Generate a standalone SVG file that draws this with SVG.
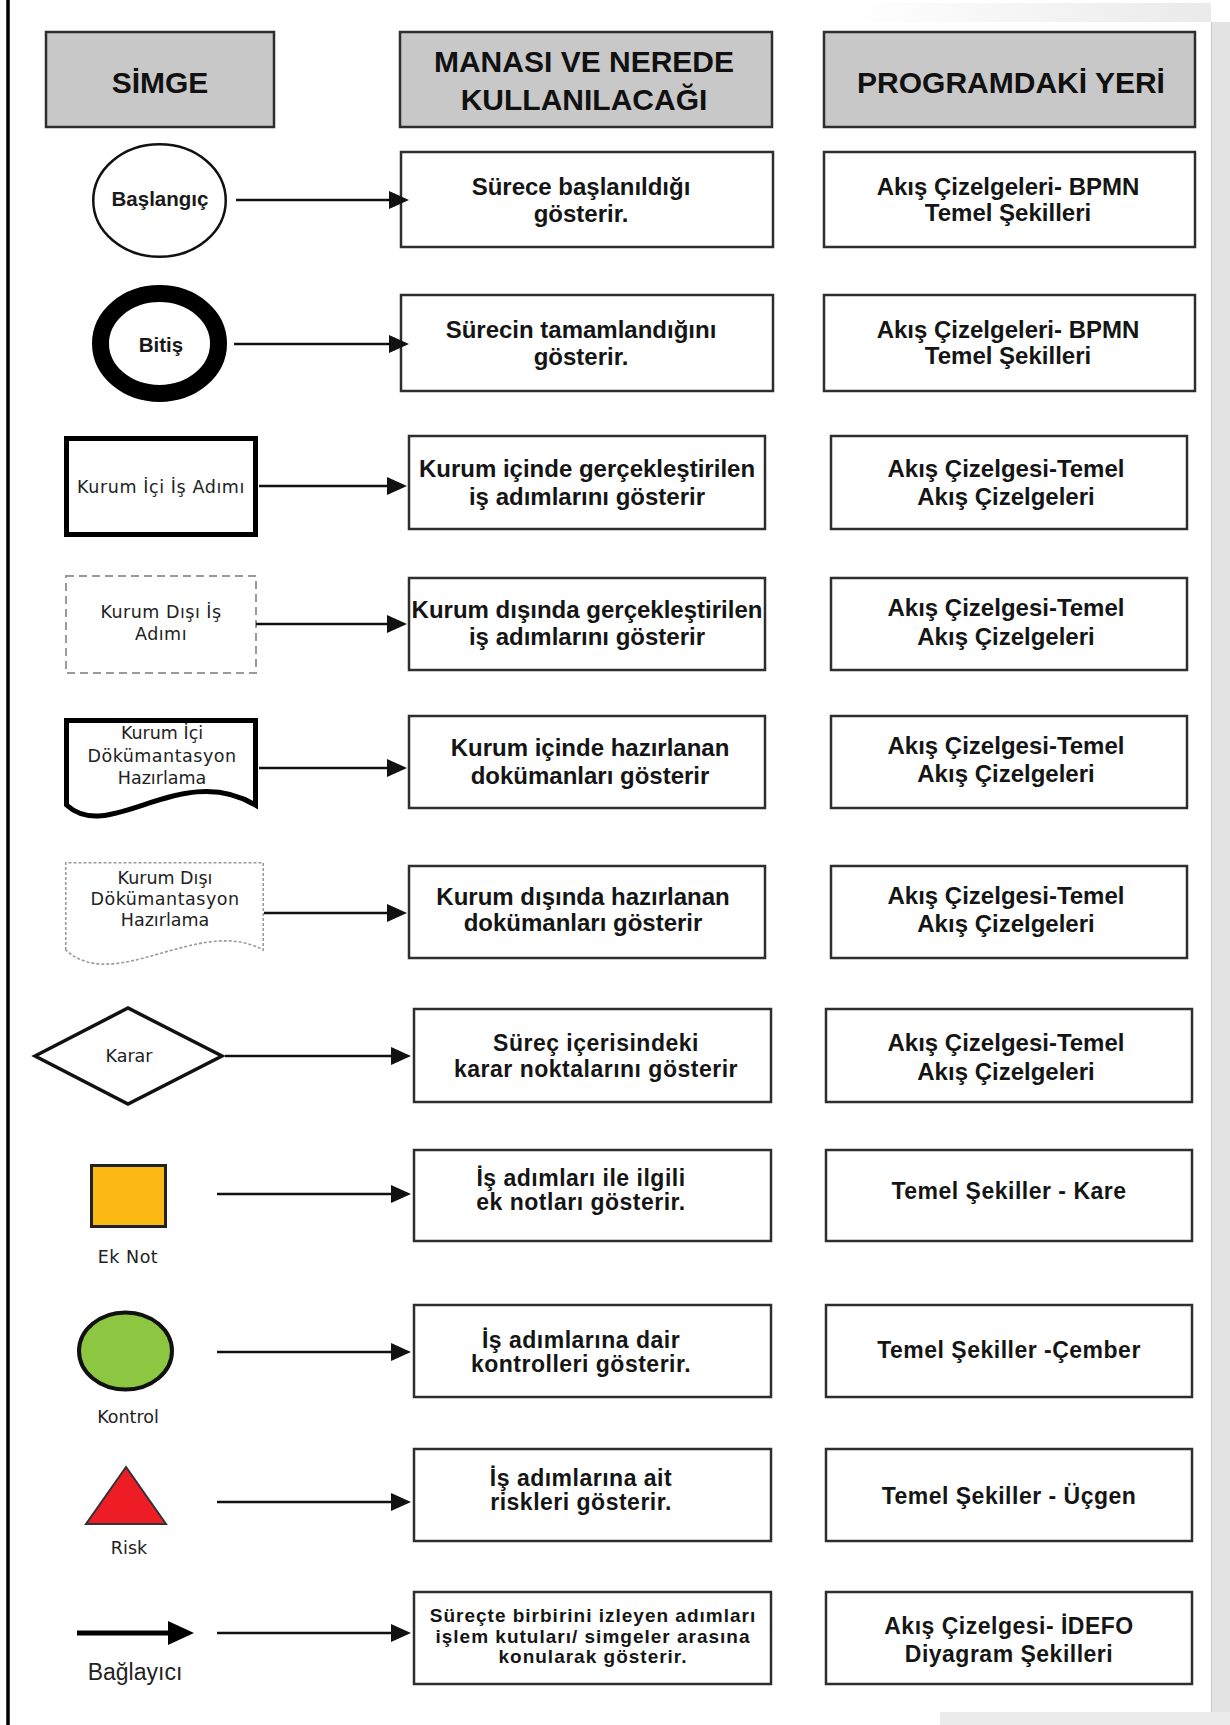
<svg xmlns="http://www.w3.org/2000/svg" width="1230" height="1725" viewBox="0 0 1230 1725">
<defs>
<style>
.hdr{fill:#c8c8c8;stroke:#2e2e2e;stroke-width:2.5}
.box{fill:#fff;stroke:#2e2e2e;stroke-width:2.5}
.ht{font-family:"Liberation Sans",Arial,sans-serif;font-weight:bold;font-size:30px;fill:#111;text-anchor:middle}
.ct{font-family:"Liberation Sans",Arial,sans-serif;font-weight:bold;font-size:24px;fill:#151515;text-anchor:middle}
.wt{font-family:"Liberation Sans",Arial,sans-serif;font-weight:bold;font-size:23px;letter-spacing:0.5px;fill:#151515;text-anchor:middle}
.st{font-family:"Liberation Sans",Arial,sans-serif;font-weight:bold;font-size:19px;letter-spacing:1px;fill:#151515;text-anchor:middle}
.lbl{font-family:"DejaVu Sans",Verdana,sans-serif;font-size:17.5px;fill:#222;text-anchor:middle}
.sym{font-family:"Liberation Sans",Arial,sans-serif;font-weight:bold;font-size:20.5px;fill:#1a1a1a;text-anchor:middle}
.conn{stroke:#111;stroke-width:2.5;fill:none;marker-end:url(#ah)}
</style>
<marker id="ah" viewBox="0 0 20 18" refX="15" refY="9" markerUnits="userSpaceOnUse" markerWidth="20" markerHeight="18" orient="auto">
<path d="M0,0 L20,9 L0,18 Z" fill="#111"/>
</marker>
<linearGradient id="topfade" x1="0" y1="0" x2="1" y2="0">
<stop offset="0" stop-color="#ffffff"/>
<stop offset="1" stop-color="#dcdcdc"/>
</linearGradient>
</defs>
<rect x="0" y="0" width="1230" height="1725" fill="#fff"/>
<g id="page-frame">
<rect x="850" y="3" width="361" height="19" fill="url(#topfade)" opacity="0.6"/>
<rect x="1211" y="22" width="19" height="1703" fill="#e3e3e3"/>
<line x1="1211.5" y1="22" x2="1211.5" y2="1712" stroke="#c9c9c9" stroke-width="1"/>
<rect x="940" y="1712" width="290" height="13" fill="#ececec"/>
<line x1="8" y1="0" x2="8" y2="1725" stroke="#000" stroke-width="3.5"/>
</g>

<g id="header-simge">
<rect class="hdr" x="46" y="32" width="228" height="95"/>
<text class="ht" x="160" y="93">SİMGE</text>
</g>
<g id="header-manasi">
<rect class="hdr" x="400" y="32" width="372" height="95"/>
<text class="ht" x="584" y="72">MANASI VE NEREDE</text>
<text class="ht" x="584" y="110">KULLANILACAĞI</text>
</g>
<g id="header-program">
<rect class="hdr" x="824" y="32" width="371" height="95"/>
<text class="ht" x="1011" y="93">PROGRAMDAKİ YERİ</text>
</g>

<!-- Symbols -->
<g id="sym-baslangic">
<ellipse cx="159.5" cy="200.5" rx="66.25" ry="56.25" fill="#fff" stroke="#111" stroke-width="2.5"/>
<text class="sym" x="160" y="206">Başlangıç</text>
</g>
<g id="sym-bitis">
<ellipse cx="159.5" cy="343.5" rx="59" ry="50" fill="#fff" stroke="#000" stroke-width="17"/>
<text class="sym" x="161" y="352">Bitiş</text>
</g>
<g id="sym-kurum-ici-is">
<rect x="66.5" y="438.5" width="189" height="96" fill="#fff" stroke="#000" stroke-width="5"/>
<text class="lbl" x="161" y="493" letter-spacing="0.6">Kurum İçi İş Adımı</text>
</g>
<g id="sym-kurum-disi-is">
<rect x="66" y="576" width="190" height="97" fill="#fff" stroke="#9a9a9a" stroke-width="2" stroke-dasharray="8 5"/>
<text class="lbl" x="161" y="618" letter-spacing="0.5">Kurum Dışı İş</text>
<text class="lbl" x="161" y="640" letter-spacing="0.5">Adımı</text>
</g>
<g id="sym-kurum-ici-dok">
<path d="M66.5,805 V720.5 H255.5 V805 C180,760 110,845 66.5,805 Z" fill="#fff" stroke="#000" stroke-width="5" stroke-linejoin="miter"/>
<text class="lbl" x="162" y="739">Kurum İçi</text>
<text class="lbl" x="162" y="762" letter-spacing="0.5">Dökümantasyon</text>
<text class="lbl" x="162" y="784">Hazırlama</text>
</g>
<g id="sym-kurum-disi-dok">
<path d="M65.75,950 V862.75 H263.25 V950 C200,915 115,995 65.75,950 Z" fill="#fff" stroke="#9a9a9a" stroke-width="1.6" stroke-dasharray="3 2"/>
<text class="lbl" x="165" y="884">Kurum Dışı</text>
<text class="lbl" x="165" y="905" letter-spacing="0.5">Dökümantasyon</text>
<text class="lbl" x="165" y="926">Hazırlama</text>
</g>
<g id="sym-karar">
<polygon points="35,1056 128,1008 222,1056 128,1104" fill="#fff" stroke="#111" stroke-width="3.5"/>
<text class="lbl" x="129" y="1062">Karar</text>
</g>
<g id="sym-ek-not">
<rect x="91.5" y="1165.5" width="74" height="61" fill="#FDB913" stroke="#222" stroke-width="3"/>
<text class="lbl" x="128" y="1263" letter-spacing="0.5">Ek Not</text>
</g>
<g id="sym-kontrol">
<ellipse cx="125.5" cy="1351" rx="46.5" ry="38.5" fill="#8DC641" stroke="#111" stroke-width="4"/>
<text class="lbl" x="128" y="1423">Kontrol</text>
</g>
<g id="sym-risk">
<polygon points="126,1467 86,1524 166,1524" fill="#EE1C25" stroke="#333" stroke-width="2"/>
<text class="lbl" x="129" y="1554">Risk</text>
</g>
<g id="sym-baglayici">
<line x1="77" y1="1633" x2="172" y2="1633" stroke="#000" stroke-width="5"/>
<polygon points="168,1621 194,1633 168,1645" fill="#000"/>
<text x="135" y="1680" font-family="Liberation Sans, Arial, sans-serif" font-size="23" fill="#222" text-anchor="middle">Bağlayıcı</text>
</g>

<!-- Meaning boxes -->
<g id="mean-1">
<rect class="box" x="401" y="152" width="372" height="95"/>
<text class="ct" x="581" y="195">Sürece başlanıldığı</text>
<text class="ct" x="581" y="222">gösterir.</text>
</g>
<g id="mean-2">
<rect class="box" x="401" y="295" width="372" height="96"/>
<text class="ct" x="581" y="338">Sürecin tamamlandığını</text>
<text class="ct" x="581" y="365">gösterir.</text>
</g>
<g id="mean-3">
<rect class="box" x="409" y="436" width="356" height="93"/>
<text class="ct" x="587" y="477">Kurum içinde gerçekleştirilen</text>
<text class="ct" x="587" y="505">iş adımlarını gösterir</text>
</g>
<g id="mean-4">
<rect class="box" x="409" y="578" width="356" height="92"/>
<text class="ct" x="587" y="618">Kurum dışında gerçekleştirilen</text>
<text class="ct" x="587" y="645">iş adımlarını gösterir</text>
</g>
<g id="mean-5">
<rect class="box" x="409" y="716" width="356" height="92"/>
<text class="ct" x="590" y="756">Kurum içinde hazırlanan</text>
<text class="ct" x="590" y="784">dokümanları gösterir</text>
</g>
<g id="mean-6">
<rect class="box" x="409" y="866" width="356" height="92"/>
<text class="ct" x="583" y="905">Kurum dışında hazırlanan</text>
<text class="ct" x="583" y="931">dokümanları gösterir</text>
</g>
<g id="mean-7">
<rect class="box" x="414" y="1009" width="357" height="93"/>
<text class="wt" x="596" y="1051">Süreç içerisindeki</text>
<text class="wt" x="596" y="1077">karar noktalarını gösterir</text>
</g>
<g id="mean-8">
<rect class="box" x="414" y="1150" width="357" height="91"/>
<text class="wt" x="581" y="1186">İş adımları ile ilgili</text>
<text class="wt" x="581" y="1210">ek notları gösterir.</text>
</g>
<g id="mean-9">
<rect class="box" x="414" y="1305" width="357" height="92"/>
<text class="wt" x="581" y="1348">İş adımlarına dair</text>
<text class="wt" x="581" y="1372">kontrolleri gösterir.</text>
</g>
<g id="mean-10">
<rect class="box" x="414" y="1449" width="357" height="92"/>
<text class="wt" x="581" y="1486">İş adımlarına ait</text>
<text class="wt" x="581" y="1510">riskleri gösterir.</text>
</g>
<g id="mean-11">
<rect class="box" x="414" y="1592" width="357" height="92"/>
<text class="st" x="593" y="1622">Süreçte birbirini izleyen adımları</text>
<text class="st" x="593" y="1643">işlem kutuları/ simgeler arasına</text>
<text class="st" x="593" y="1663">konularak gösterir.</text>
</g>

<!-- Program boxes -->
<g id="prog-1">
<rect class="box" x="824" y="152" width="371" height="95"/>
<text class="ct" x="1008" y="195">Akış Çizelgeleri- BPMN</text>
<text class="ct" x="1008" y="221">Temel Şekilleri</text>
</g>
<g id="prog-2">
<rect class="box" x="824" y="295" width="371" height="96"/>
<text class="ct" x="1008" y="338">Akış Çizelgeleri- BPMN</text>
<text class="ct" x="1008" y="364">Temel Şekilleri</text>
</g>
<g id="prog-3">
<rect class="box" x="831" y="436" width="356" height="93"/>
<text class="ct" x="1006" y="477">Akış Çizelgesi-Temel</text>
<text class="ct" x="1006" y="505">Akış Çizelgeleri</text>
</g>
<g id="prog-4">
<rect class="box" x="831" y="578" width="356" height="92"/>
<text class="ct" x="1006" y="616">Akış Çizelgesi-Temel</text>
<text class="ct" x="1006" y="645">Akış Çizelgeleri</text>
</g>
<g id="prog-5">
<rect class="box" x="831" y="716" width="356" height="92"/>
<text class="ct" x="1006" y="754">Akış Çizelgesi-Temel</text>
<text class="ct" x="1006" y="782">Akış Çizelgeleri</text>
</g>
<g id="prog-6">
<rect class="box" x="831" y="866" width="356" height="92"/>
<text class="ct" x="1006" y="904">Akış Çizelgesi-Temel</text>
<text class="ct" x="1006" y="932">Akış Çizelgeleri</text>
</g>
<g id="prog-7">
<rect class="box" x="826" y="1009" width="366" height="93"/>
<text class="ct" x="1006" y="1051">Akış Çizelgesi-Temel</text>
<text class="ct" x="1006" y="1080">Akış Çizelgeleri</text>
</g>
<g id="prog-8">
<rect class="box" x="826" y="1150" width="366" height="91"/>
<text class="wt" x="1009" y="1199">Temel Şekiller - Kare</text>
</g>
<g id="prog-9">
<rect class="box" x="826" y="1305" width="366" height="92"/>
<text class="wt" x="1009" y="1358">Temel Şekiller -Çember</text>
</g>
<g id="prog-10">
<rect class="box" x="826" y="1449" width="366" height="92"/>
<text class="wt" x="1009" y="1504">Temel Şekiller - Üçgen</text>
</g>
<g id="prog-11">
<rect class="box" x="826" y="1592" width="366" height="92"/>
<text class="wt" x="1009" y="1634">Akış Çizelgesi- İDEFO</text>
<text class="wt" x="1009" y="1662">Diyagram Şekilleri</text>
</g>

<g id="connectors">
<line class="conn" x1="236" y1="200" x2="404" y2="200"/>
<line class="conn" x1="234" y1="344" x2="404" y2="344"/>
<line class="conn" x1="259" y1="486" x2="402" y2="486"/>
<line class="conn" x1="256" y1="624" x2="402" y2="624"/>
<line class="conn" x1="259" y1="768" x2="402" y2="768"/>
<line class="conn" x1="264" y1="913" x2="402" y2="913"/>
<line class="conn" x1="225" y1="1056" x2="406" y2="1056"/>
<line class="conn" x1="217" y1="1194" x2="406" y2="1194"/>
<line class="conn" x1="217" y1="1352" x2="406" y2="1352"/>
<line class="conn" x1="217" y1="1502" x2="406" y2="1502"/>
<line class="conn" x1="217" y1="1633" x2="406" y2="1633"/>
</g>
</svg>
